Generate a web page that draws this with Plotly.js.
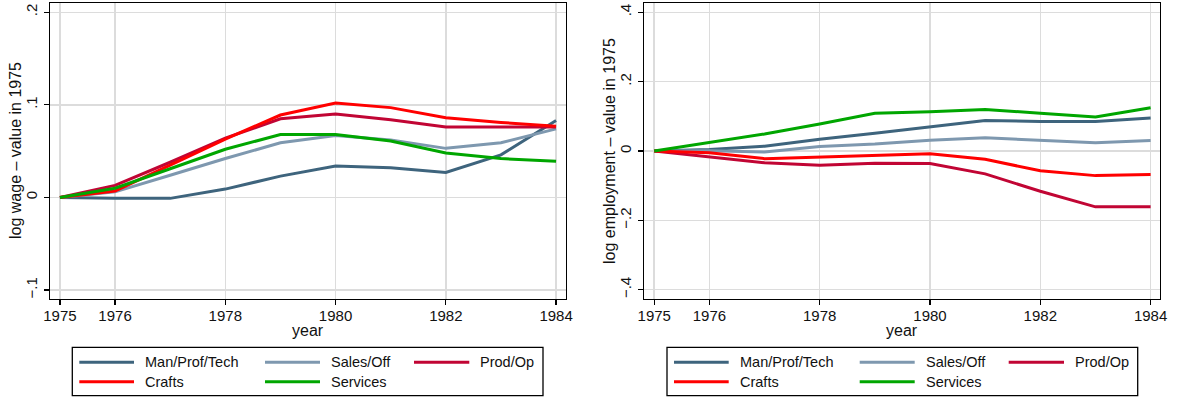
<!DOCTYPE html>
<html>
<head>
<meta charset="utf-8">
<script src="https://cdn.plot.ly/plotly-3.0.1.min.js"></script>
<style>
  html, body { margin: 0; padding: 0; background: #fff; }
  #chart { width: 1178px; height: 398px; }
</style>
</head>
<body>
<div id="chart"></div>
<script>
// Years on the horizontal axis
const years = [1975, 1976, 1977, 1978, 1979, 1980, 1981, 1982, 1983, 1984];
const yearTicks = [1975, 1976, 1978, 1980, 1982, 1984];

// Occupation groups and their line colours
const groups = ['Man/Prof/Tech', 'Sales/Off', 'Prod/Op', 'Crafts', 'Services'];
const groupColors = ['#3E647D', '#7E98AF', '#C10534', '#FF0000', '#00A600'];

// Log wage relative to 1975
const wageManProfTech = [0, -0.001, -0.001, 0.009, 0.023, 0.034, 0.032, 0.027, 0.046, 0.083];
const wageSalesOff    = [0, 0.006, 0.024, 0.042, 0.059, 0.067, 0.062, 0.053, 0.059, 0.074];
const wageProdOp      = [0, 0.013, 0.038, 0.064, 0.085, 0.090, 0.084, 0.076, 0.076, 0.076];
const wageCrafts      = [0, 0.007, 0.035, 0.063, 0.089, 0.102, 0.097, 0.086, 0.081, 0.077];
const wageServices    = [0, 0.010, 0.031, 0.052, 0.068, 0.068, 0.061, 0.048, 0.042, 0.039];

// Log employment relative to 1975
const empManProfTech = [0, 0.004, 0.014, 0.034, 0.051, 0.070, 0.088, 0.085, 0.085, 0.095];
const empSalesOff    = [0, 0.001, -0.003, 0.013, 0.020, 0.031, 0.038, 0.032, 0.024, 0.030];
const empProdOp      = [0, -0.017, -0.034, -0.041, -0.035, -0.036, -0.066, -0.116, -0.161, -0.161];
const empCrafts      = [0, -0.005, -0.022, -0.017, -0.011, -0.008, -0.024, -0.057, -0.071, -0.068];
const empServices    = [0, 0.024, 0.049, 0.078, 0.109, 0.113, 0.120, 0.109, 0.098, 0.125];

// Y tick values and labels
const wageTicks = [-0.1, 0, 0.1, 0.2];
const wageTickText = ['\u2212.1', '0', '.1', '.2'];
const empTicks = [-0.4, -0.2, 0, 0.2, 0.4];
const empTickText = ['\u2212.4', '\u2212.2', '0', '.2', '.4'];

// Axis titles
const xTitle = 'year';
const wageTitle = 'log wage \u2013 value in 1975';
const empTitle = 'log employment \u2013 value in 1975';

const wageSeries = [wageManProfTech, wageSalesOff, wageProdOp, wageCrafts, wageServices];
const empSeries = [empManProfTech, empSalesOff, empProdOp, empCrafts, empServices];

const W = 1178, H = 398;
const px = x => x / W;
const py = y => 1 - y / H;

const traces = [];
groups.forEach((g, i) => {
  traces.push({
    x: years, y: wageSeries[i], type: 'scatter', mode: 'lines', name: g,
    line: { color: groupColors[i], width: 3 }, xaxis: 'x', yaxis: 'y', showlegend: false
  });
});
groups.forEach((g, i) => {
  traces.push({
    x: years, y: empSeries[i], type: 'scatter', mode: 'lines', name: g,
    line: { color: groupColors[i], width: 3 }, xaxis: 'x2', yaxis: 'y2', showlegend: false
  });
});

const family = 'Liberation Sans, Arial, sans-serif';
const tickFont = { family: family, size: 15, color: '#111' };
const titleFont = { family: family, size: 16, color: '#111' };

function xAxis(domain, anchor) {
  return {
    domain: domain, anchor: anchor, range: [1974.82, 1984.18],
    tickvals: yearTicks, ticktext: yearTicks.map(String),
    ticks: 'outside', ticklen: 5, tickwidth: 1.2, tickcolor: '#000',
    showline: true, mirror: true, linecolor: '#000', linewidth: 1.3,
    showgrid: true, gridcolor: '#DCDCDC', gridwidth: 1.5, zeroline: false,
    tickfont: tickFont, ticklabelstandoff: -2
  };
}
function yAxis(domain, anchor, range, vals, text) {
  return {
    domain: domain, anchor: anchor, range: range,
    tickvals: vals, ticktext: text, tickangle: -90,
    ticks: 'outside', ticklen: 5, tickwidth: 1.2, tickcolor: '#000',
    showline: true, mirror: true, linecolor: '#000', linewidth: 1.3,
    showgrid: true, gridcolor: '#DCDCDC', gridwidth: 1.5, zeroline: false,
    tickfont: tickFont, ticklabelstandoff: 1
  };
}

const yDom = [py(299), py(3)];

const shapes = [];
const annotations = [];

// Axis titles placed in paper coordinates
[[308, 16, wageTitle], [902, 610, empTitle]].forEach(([cx, ty, t]) => {
  annotations.push({
    xref: 'paper', yref: 'paper', x: px(cx), y: py(330), xanchor: 'center', yanchor: 'middle',
    text: xTitle, showarrow: false, font: titleFont
  });
  annotations.push({
    xref: 'paper', yref: 'paper', x: px(ty), y: py(151), xanchor: 'center', yanchor: 'middle',
    text: t, textangle: -90, showarrow: false, font: titleFont
  });
});

// Legend boxes drawn in paper coordinates below each panel
const legendOffsets = [0, 594.7];
const colLine = [[79.3, 134], [265, 320], [414, 469.3]];
const colText = [143.3, 329.3, 478.3];
const rowY = [362.3, 381.7];
legendOffsets.forEach(off => {
  shapes.push({
    type: 'rect', xref: 'paper', yref: 'paper',
    x0: px(72.3 + off), x1: px(543 + off), y0: py(395.7), y1: py(347.3),
    line: { color: '#000', width: 1.3 }, fillcolor: 'rgba(0,0,0,0)'
  });
  groups.forEach((g, i) => {
    const col = i % 3, row = Math.floor(i / 3);
    shapes.push({
      type: 'line', xref: 'paper', yref: 'paper',
      x0: px(colLine[col][0] + off), x1: px(colLine[col][1] + off),
      y0: py(rowY[row]), y1: py(rowY[row]),
      line: { color: groupColors[i], width: 3 }
    });
    annotations.push({
      xref: 'paper', yref: 'paper', x: px(colText[col] + off), y: py(rowY[row]),
      xanchor: 'left', yanchor: 'middle', text: g, showarrow: false,
      font: { family: family, size: 14.5, color: '#111' }
    });
  });
});

const layout = {
  width: W, height: H,
  margin: { l: 0, r: 0, t: 0, b: 0 },
  paper_bgcolor: '#fff', plot_bgcolor: '#fff',
  showlegend: false,
  font: tickFont,
  xaxis: xAxis([px(50), px(566)], 'y'),
  yaxis: yAxis(yDom, 'x', [-0.1097, 0.2100], wageTicks, wageTickText),
  xaxis2: Object.assign(xAxis([px(644.3), px(1160)], 'y2'), { range: [1974.82, 1984.17] }),
  yaxis2: yAxis(yDom, 'x2', [-0.4268, 0.4268], empTicks, empTickText),
  shapes: shapes,
  annotations: annotations
};

Plotly.newPlot('chart', traces, layout, { staticPlot: true, displayModeBar: false });
</script>
</body>
</html>
